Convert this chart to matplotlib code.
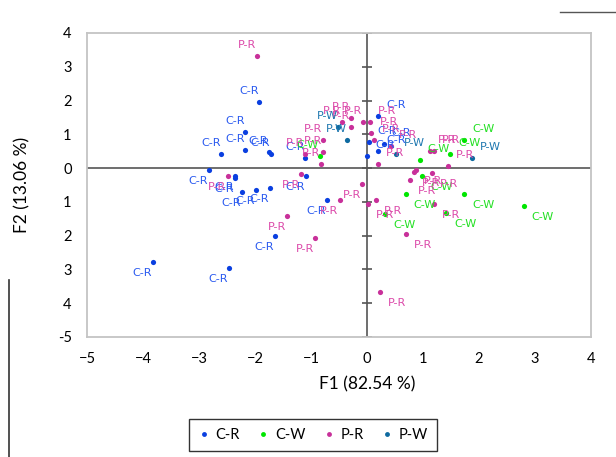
import matplotlib
matplotlib.use("Agg")
import matplotlib.pyplot as plt
from matplotlib.lines import Line2D

# PCA scores (F1, F2)
cr_x = [-1.92, -2.17, -2.60, -2.17, -1.75, -1.71, -2.82, -2.36, -2.36, -2.24, -1.99, -1.74,
        -1.10, -1.09, -0.71, -1.64, -3.82, -2.46, 0.00, 0.04, 0.20, 0.30, 0.20]
cr_y = [1.95, 1.06, 0.41, 0.53, 0.47, 0.41, -0.06, -0.24, -0.30, -0.71, -0.65, -0.59,
        0.30, -0.24, -0.95, -2.01, -2.78, -2.96, 0.35, 0.77, 1.53, 0.72, 0.52]

cw_x = [-0.84, 0.94, 1.48, 1.73, 0.98, 0.69, 1.73, 2.80, 0.32, 1.41]
cw_y = [0.37, 0.23, 0.41, 0.83, -0.24, -0.77, -0.77, -1.12, -1.35, -1.33]

pr_x = [-1.96, -0.82, -0.78, -0.78, -1.10, -0.45, -0.28, -0.28, -0.07, 0.05, 0.08, 0.12,
        0.43, 0.20, 1.12, 1.19, 1.45, -2.49, -1.17, -0.09, -0.49, -1.42, -0.92, 0.02,
        0.16, 0.84, 0.87, 1.16, 0.76, 1.20, 0.69, 0.23]
pr_y = [3.31, 0.12, 0.47, 0.84, 0.42, 1.36, 1.48, 1.23, 1.36, 1.36, 1.04, 0.82,
        0.65, 0.13, 0.52, 0.52, 0.06, -0.24, -0.18, -0.47, -0.95, -1.42, -2.07, -1.06,
        -0.95, -0.12, -0.07, -0.13, -0.36, -1.05, -1.96, -3.67]

pw_x = [-0.51, -0.35, 0.51, 1.88]
pw_y = [1.23, 0.84, 0.41, 0.30]

x_ticks = [-5, -4, -3, -2, -1, 0, 1, 2, 3, 4]
y_ticks = [-5, -4, -3, -2, -1, 0, 1, 2, 3, 4]
y_tick_labels = ['-5', '4', '3', '2', '1', '0', '1', '2', '3', '4']

# name, x, y, point colour, label colour
groups = [
    ("C-R", cr_x, cr_y, "#0a3fe0", "#2a5af0"),
    ("C-W", cw_x, cw_y, "#00e600", "#22e022"),
    ("P-R", pr_x, pr_y, "#c8309a", "#dc4aaa"),
    ("P-W", pw_x, pw_y, "#0e6aa0", "#1f78b0"),
]

fig = plt.figure(figsize=(6.16, 4.57), dpi=100)
ax = fig.add_axes([87 / 616, 1 - 337 / 457, 504 / 616, 304 / 457])

for name, xs, ys, col, lcol in groups:
    ax.scatter(xs, ys, s=14, color=col, linewidths=0, zorder=3)
    for x, y in zip(xs, ys):
        if x >= 0:
            dx, ha = 8, "left"
        else:
            dx, ha = -1, "right"
        dy = 11 if y >= 0 else -11
        ax.annotate(name, (x, y), xytext=(dx, dy), textcoords="offset pixels",
                    ha=ha, va="center", fontsize=8, color=lcol,
                    family="DejaVu Sans", zorder=4)

ax.set_xlim(-5, 4)
ax.set_ylim(-5, 4)

# zero axes with tick marks on the vertical one
ax.axhline(0, color="#555555", lw=1.2, zorder=2)
ax.axvline(0, color="#555555", lw=1.2, zorder=2)
ax.hlines(y_ticks, -0.09, 0.09, color="#555555", lw=1.2, zorder=2)

for sp in ax.spines.values():
    sp.set_color("#c4c4c4")
    sp.set_linewidth(1.3)

ax.set_xticks(x_ticks)
ax.set_yticks(y_ticks)
ax.set_yticklabels(y_tick_labels)
ax.tick_params(length=0, labelsize=10.5)
ax.tick_params(axis="x", pad=11)
ax.tick_params(axis="y", pad=11)
for lab in ax.get_xticklabels() + ax.get_yticklabels():
    lab.set_family("Lato")

ax.set_xlabel("F1 (82.54 %)", fontsize=12.5, family="Lato")
ax.set_ylabel("F2 (13.06 %)", fontsize=12.5, family="Lato")
ax.xaxis.set_label_coords(0.556, -0.13)
ax.yaxis.set_label_coords(-0.112, 0.5)

handles = [Line2D([], [], ls="none", marker="o", ms=3.5, color=g[3], mec="none")
           for g in groups]
leg = fig.legend(handles, [g[0] for g in groups], loc="center",
                 bbox_to_anchor=(313 / 616, 1 - 435 / 457), ncol=4,
                 frameon=True, fancybox=False, handlelength=0.8,
                 handletextpad=0.4, columnspacing=1.2, borderpad=0.6,
                 prop={"family": "Lato", "size": 10.5})
leg.get_frame().set_edgecolor("black")
leg.get_frame().set_linewidth(1.0)

# bits of the surrounding page border
fig.add_artist(Line2D([9 / 616, 9 / 616], [0, 1 - 280 / 457], color="#333333", lw=1.2))
fig.add_artist(Line2D([560 / 616, 1], [1 - 12 / 457, 1 - 12 / 457], color="#555555", lw=1.0))

fig.savefig("out.png", dpi=100)
